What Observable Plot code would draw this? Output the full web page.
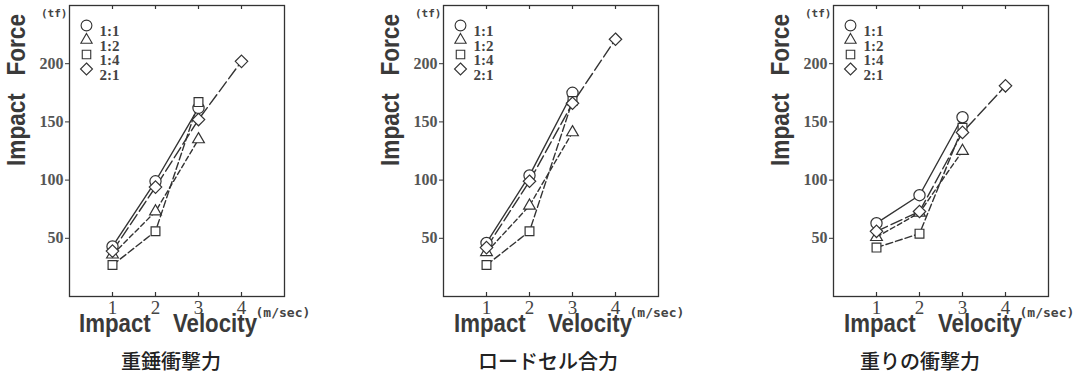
<!DOCTYPE html>
<html><head><meta charset="utf-8">
<script src="https://cdn.jsdelivr.net/npm/d3@7"></script>
<script src="https://cdn.jsdelivr.net/npm/@observablehq/plot@0.6"></script>
<style>
body{margin:0;background:#fff;width:1089px;height:374px;overflow:hidden;position:relative}
.panel{position:absolute;top:0}
.panel svg{overflow:visible}
</style></head><body>
<div id="p0" class="panel" style="left:0px"></div>
<div id="p1" class="panel" style="left:374px"></div>
<div id="p2" class="panel" style="left:764px"></div>
<script>
// ---- data ----
const velocities = [1, 2, 3, 4];
const seriesNames = ["1:1", "1:2", "1:4", "2:1"];
const xTicks = [1, 2, 3, 4];
const yTicks = [50, 100, 150, 200];
const captions = ["重錘衝撃力", "ロードセル合力", "重りの衝撃力"];
const yLabel = "Impact\u2002 Force";
const xLabel = "Impact\u2002\u2002Velocity";
const yUnit = "(tf)";
const xUnit = "(m/sec)";

// panel 1: 重錘衝撃力
const hammer_1_1 = [43, 99, 162];
const hammer_1_2 = [36, 73, 135];
const hammer_1_4 = [27, 56, 167];
const hammer_2_1 = [39, 94, 152, 202];
// panel 2: ロードセル合力
const load_1_1 = [46, 104, 175];
const load_1_2 = [38, 78, 141];
const load_1_4 = [27, 56, 168];
const load_2_1 = [42, 99, 166, 221];
// panel 3: 重りの衝撃力
const weight_1_1 = [63, 87, 154];
const weight_1_2 = [51, 72, 125];
const weight_1_4 = [42, 54, 145];
const weight_2_1 = [56, 73, 141, 181];

const panels = [
  [hammer_1_1, hammer_1_2, hammer_1_4, hammer_2_1],
  [load_1_1, load_1_2, load_1_4, load_2_1],
  [weight_1_1, weight_1_2, weight_1_4, weight_2_1]
];

// ---- styles ----
const symbolRange = ["circle", "triangle2", "square2", "diamond2"];
const dashes = [null, "5,3", "7,3", "12,4"];
const ink = "#333";
const sans = "'Liberation Sans',Arial,sans-serif";
const serif = "'Liberation Serif','DejaVu Serif',serif";
const mono = "'DejaVu Sans Mono','Liberation Mono',monospace";
const capDx = [-6, -3, -21];
const velDx = [-9, -8, -8];
const frameH = 374 - 5 - 78;

panels.forEach((vals, p) => {
  const rows = [];
  vals.forEach((arr, i) => arr.forEach((f, j) => rows.push({series: seriesNames[i], v: velocities[j], f})));
  const lines = seriesNames.map((s, i) => Plot.line(rows.filter(r => r.series === s), {
    x: "v", y: "f", stroke: ink, strokeWidth: 1.4, strokeDasharray: dashes[i]
  }));
  const legend = seriesNames.flatMap((s, i) => [
    Plot.dot([s], {frameAnchor: "top-left", dx: 17, dy: 20 + 14.5 * i, symbol: d => d, r: 5.4, stroke: ink, fill: "white", strokeWidth: 1.1}),
    Plot.text([s], {frameAnchor: "top-left", dx: 30, dy: 20 + 14.5 * i, text: d => d, textAnchor: "start",
      fontSize: 15, fontWeight: "bold", fontFamily: serif, fill: "#444"})
  ]);
  const chart = Plot.plot({
    width: 324, height: 374,
    marginLeft: 69, marginRight: 40, marginTop: 5, marginBottom: 78,
    x: {domain: [0, 5]},
    y: {domain: [0, 250]},
    symbol: {domain: seriesNames, range: symbolRange},
    style: {background: "transparent", overflow: "visible"},
    marks: [
      Plot.text([xLabel], {frameAnchor: "bottom", dx: velDx[p], dy: 35, lineAnchor: "bottom", text: d => d,
        fontSize: 25, fontWeight: "bold", fontFamily: sans, fill: "#3a3a3a"}),
      Plot.frame({stroke: ink, strokeWidth: 1.3}),
      Plot.axisY(yTicks, {tickSize: 4, tickPadding: 2, label: null, fontSize: 16, fontWeight: "bold", fontFamily: serif, fill: "#555", stroke: ink}),
      Plot.axisX(xTicks, {tickSize: 0, tickPadding: 3.5, label: null, fontSize: 19, fontFamily: serif, fill: "#444"}),
      Plot.tickX(xTicks, {x: d => d, insetTop: frameH - 4, stroke: ink, strokeWidth: 1.2}),
      Plot.tickX(xTicks, {x: d => d, insetBottom: frameH - 4, stroke: ink, strokeWidth: 1.2}),
      ...lines,
      Plot.dot(rows, {x: "v", y: "f", symbol: "series", r: 5.6, stroke: ink, fill: "white", strokeWidth: 1.2}),
      ...legend,
      Plot.text([yUnit], {frameAnchor: "top-left", dx: -2, dy: 4, text: d => d, textAnchor: "end",
        fontSize: 11, fontWeight: "bold", fontFamily: mono, fill: "#444"}),
      Plot.text([yLabel], {frameAnchor: "left", rotate: -90, dx: -53, dy: 15, text: d => d,
        fontSize: 25, fontWeight: "bold", fontFamily: sans, fill: "#3a3a3a"}),
      Plot.text([xUnit], {frameAnchor: "bottom-right", dx: -29, dy: 20, lineAnchor: "bottom", textAnchor: "start", text: d => d,
        fontSize: 13, fontWeight: "bold", fontFamily: mono, fill: "#444"}),
      Plot.text([captions[p]], {frameAnchor: "bottom", dx: capDx[p], dy: 72, lineAnchor: "bottom", text: d => d,
        fontSize: 20, fontWeight: 500, fontFamily: "'Noto Sans CJK JP',sans-serif", fill: "#222"})
    ]
  });
  // condense the big axis titles to the reference's narrow lettering
  chart.querySelectorAll("text").forEach(t => {
    if (t.textContent === yLabel) { t.setAttribute("textLength", 152); t.setAttribute("lengthAdjust", "spacingAndGlyphs"); }
    if (t.textContent === xLabel) { t.setAttribute("textLength", 178); t.setAttribute("lengthAdjust", "spacingAndGlyphs"); }
  });
  document.getElementById("p" + p).appendChild(chart);
});
</script>
</body></html>
